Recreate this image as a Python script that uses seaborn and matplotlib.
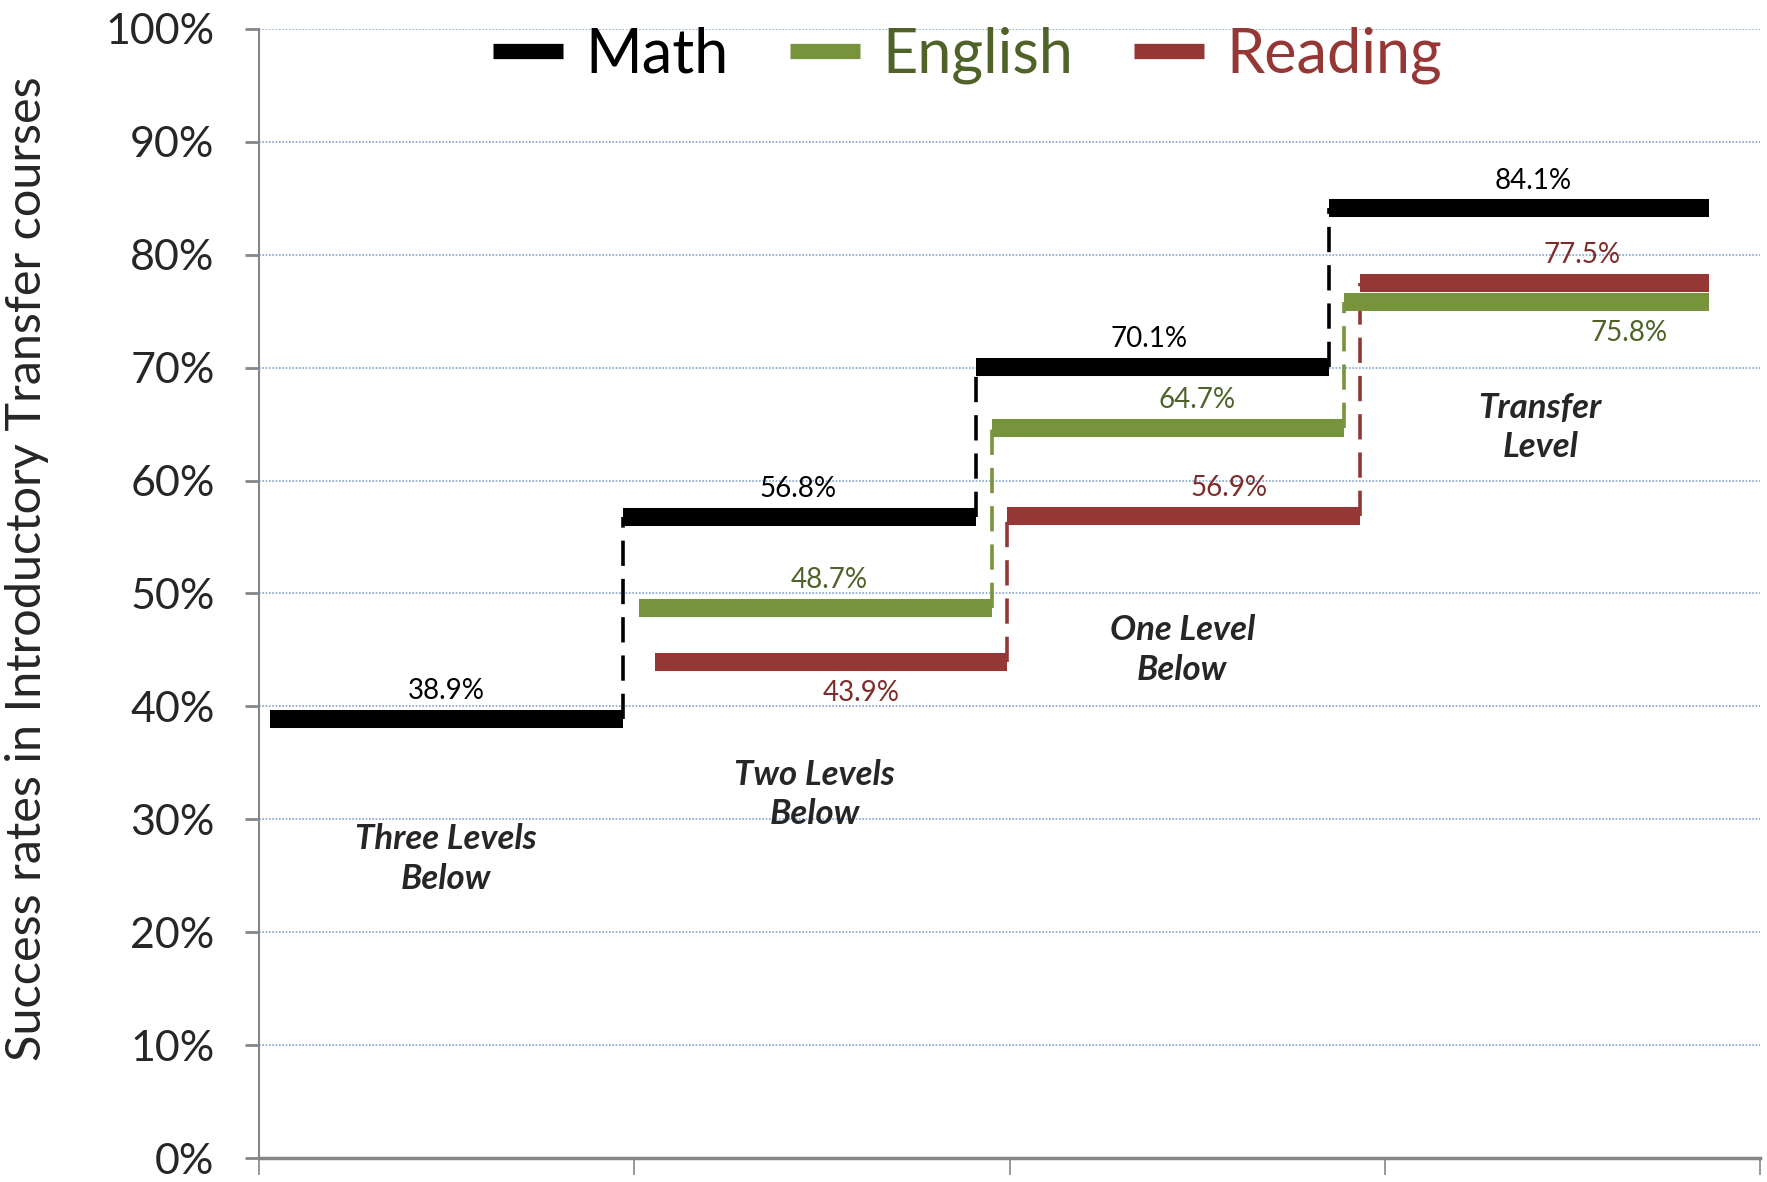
import numpy as np
import pandas as pd
import matplotlib
matplotlib.use('Agg')
import matplotlib.pyplot as plt
import seaborn as sns
from matplotlib.lines import Line2D

# data (success rates, %)
levels = ["Three Levels\nBelow", "Two Levels\nBelow", "One Level\nBelow", "Transfer\nLevel"]
subjects = ["Math", "English", "Reading"]
math = [38.9, 56.8, 70.1, 84.1]
english = [np.nan, 48.7, 64.7, 75.8]
reading = [np.nan, 43.9, 56.9, 77.5]

line_colors = {"Math": "#000000", "English": "#77933C", "Reading": "#953735"}
text_colors = {"Math": "#000000", "English": "#4F6228", "Reading": "#7F2D2B"}
legend_colors = {"Math": "#000000", "English": "#4F6228", "Reading": "#953735"}

# layout of the step segments (category units)
first_edge = 0.03
step = 0.94
shift = 0.042
last_edge = 3.865

# label layout: x position and vertical offset (points) per value
label_x = {"Math": [0.498, 1.435, 2.372, 3.396],
           "English": [None, 1.52, 2.50, 3.65],
           "Reading": [None, 1.604, 2.586, 3.526]}
label_dy = {"Math": [20, 20, 20, 20],
            "English": [0, 20, 20, -22],
            "Reading": [0, -22, 20, 20]}
level_x = [0.498, 1.48, 2.46, 3.414]
level_y = [26.5, 32.2, 45.0, 64.7]

sns.set_style("white")
plt.rcParams['font.family'] = ['Lato', 'DejaVu Sans']

series = {"Math": math, "English": english, "Reading": reading}
hrows = []
vrows = []
for k, name in enumerate(subjects):
    vals = series[name]
    edges = first_edge + shift * k + step * np.arange(len(vals) + 1)
    edges[-1] = last_edge
    for i, v in enumerate(vals):
        if np.isnan(v):
            continue
        seg = f"{name}{i}"
        hrows.append((name, seg, edges[i], v))
        hrows.append((name, seg, edges[i + 1], v))
        if i > 0 and not np.isnan(vals[i - 1]):
            vrows.append((name, seg, edges[i], vals[i - 1]))
            vrows.append((name, seg, edges[i], v))
hdf = pd.DataFrame(hrows, columns=["subject", "seg", "x", "y"])
vdf = pd.DataFrame(vrows, columns=["subject", "seg", "x", "y"])

fig = plt.figure(figsize=(17.67, 11.82), dpi=100)
ax = fig.add_axes([0.1466, 0.0203, 0.8495, 0.9552])

ax.yaxis.grid(True, linestyle=(0, (1, 1)), color='#7FA3D6', lw=1.2)
ax.set_axisbelow(True)

sns.lineplot(data=vdf, x="x", y="y", hue="subject", units="seg", estimator=None,
             palette=line_colors, hue_order=subjects, lw=2.6, linestyle=(0, (7, 3.6)),
             sort=False, legend=False, ax=ax, zorder=3)
sns.lineplot(data=hdf, x="x", y="y", hue="subject", units="seg", estimator=None,
             palette=line_colors, hue_order=subjects, lw=13, solid_capstyle='butt',
             sort=False, legend=False, ax=ax, zorder=4)

for name in subjects:
    for i, v in enumerate(series[name]):
        if np.isnan(v):
            continue
        ax.annotate(f"{v:.1f}%", (label_x[name][i], v), xytext=(0, label_dy[name][i]),
                    textcoords='offset points', ha='center', va='center',
                    fontsize=20, color=text_colors[name], zorder=5)

for lx, ly, txt in zip(level_x, level_y, levels):
    ax.text(lx, ly, txt, ha='center', va='center', fontsize=25, fontweight='bold',
            fontstyle='italic', linespacing=1.3, zorder=5)

ax.set_xlim(0, 4)
ax.set_ylim(0, 100)
ax.set_yticks(np.arange(0, 101, 10))
ax.set_yticklabels([f"{t}%" for t in range(0, 101, 10)], fontsize=31)
ax.set_xticks([0, 1, 2, 3, 4])
ax.set_xticklabels([])
ax.tick_params(axis='y', length=10, width=2, color='#868686', pad=22, left=True)
ax.tick_params(axis='x', length=12, width=1.2, color='#868686', bottom=True)
ax.set_xlabel("")
ax.set_ylabel("")
for s in ['top', 'right']:
    ax.spines[s].set_visible(False)
ax.spines['left'].set_color('#868686')
ax.spines['left'].set_linewidth(1.5)
ax.spines['bottom'].set_color('#868686')
ax.spines['bottom'].set_linewidth(2.5)

fig.text(0.015, 0.519, "Success rates in Introductory Transfer courses", rotation=90,
         ha='center', va='center', fontsize=35)

handles = [Line2D([], [], color=line_colors[n], lw=11, solid_capstyle='butt') for n in subjects]
leg = ax.legend(handles, subjects, loc='center', bbox_to_anchor=(0.472, 0.977), ncol=3,
                frameon=False, fontsize=44, handlelength=1.15, handletextpad=0.36,
                columnspacing=1.0, borderaxespad=0)
for t, n in zip(leg.get_texts(), subjects):
    t.set_color(legend_colors[n])

fig.savefig("out.png", dpi=100)
